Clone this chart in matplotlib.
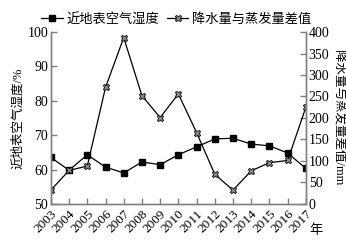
import matplotlib
matplotlib.use('Agg')
import matplotlib.pyplot as plt
import numpy as np

plt.rcParams['font.family'] = ['Liberation Serif', 'Noto Sans CJK SC']
plt.rcParams['axes.unicode_minus'] = False

years = list(range(2003, 2018))
humidity = [63.5, 59.8, 64.3, 60.7, 59.0, 62.2, 61.4, 64.3, 66.6, 68.9, 69.1,
            67.4, 66.9, 64.8, 60.3]
diff = [32, 78, 88, 271, 387, 252, 201, 256, 166, 69, 32, 77, 96, 101, 225]

gray = '#808080'

fig = plt.figure(figsize=(3.46, 2.41), dpi=100)
ax = fig.add_axes([0.147, 0.154, 0.737, 0.713])
ax2 = ax.twinx()

l1, = ax.plot(years, humidity, color='black', lw=0.9, marker='s', ms=4,
              label='近地表空气湿度')
l2, = ax2.plot(years, diff, color='black', lw=0.9, marker='X', ms=4.5,
               mfc='#888888', mec='black', mew=0.6, label='降水量与蒸发量差值')

ax.set_xlim(2003, 2017)
ax.set_ylim(50, 100)
ax2.set_ylim(0, 400)
ax.set_xticks(years)
ax.set_xticklabels([str(y) for y in years], rotation=45, ha='right',
                   rotation_mode='anchor')
ax.set_yticks(range(50, 101, 10))
ax2.set_yticks(range(0, 401, 50))

for a in (ax, ax2):
    for s in a.spines.values():
        s.set_color(gray)
        s.set_linewidth(1.0)
    a.spines['top'].set_visible(False)
    a.tick_params(direction='in', length=4, color=gray, width=1.0,
                  labelsize=10, pad=2)
ax.tick_params(axis='x', labelsize=9.5, pad=3)

ax.set_ylabel('近地表空气湿度/%', fontsize=9, labelpad=2)
ax2.set_ylabel('降水量与蒸发量差值/mm', fontsize=9, rotation=270, labelpad=11)

fig.text(0.895, 0.03, '年', fontsize=9.5)

fig.legend(handles=[l1, l2], loc='upper center', ncol=2, frameon=False,
           bbox_to_anchor=(0.51, 0.995), fontsize=9.5, handlelength=1.6,
           columnspacing=0.6, handletextpad=0.3)

fig.savefig('out.png', dpi=100)
